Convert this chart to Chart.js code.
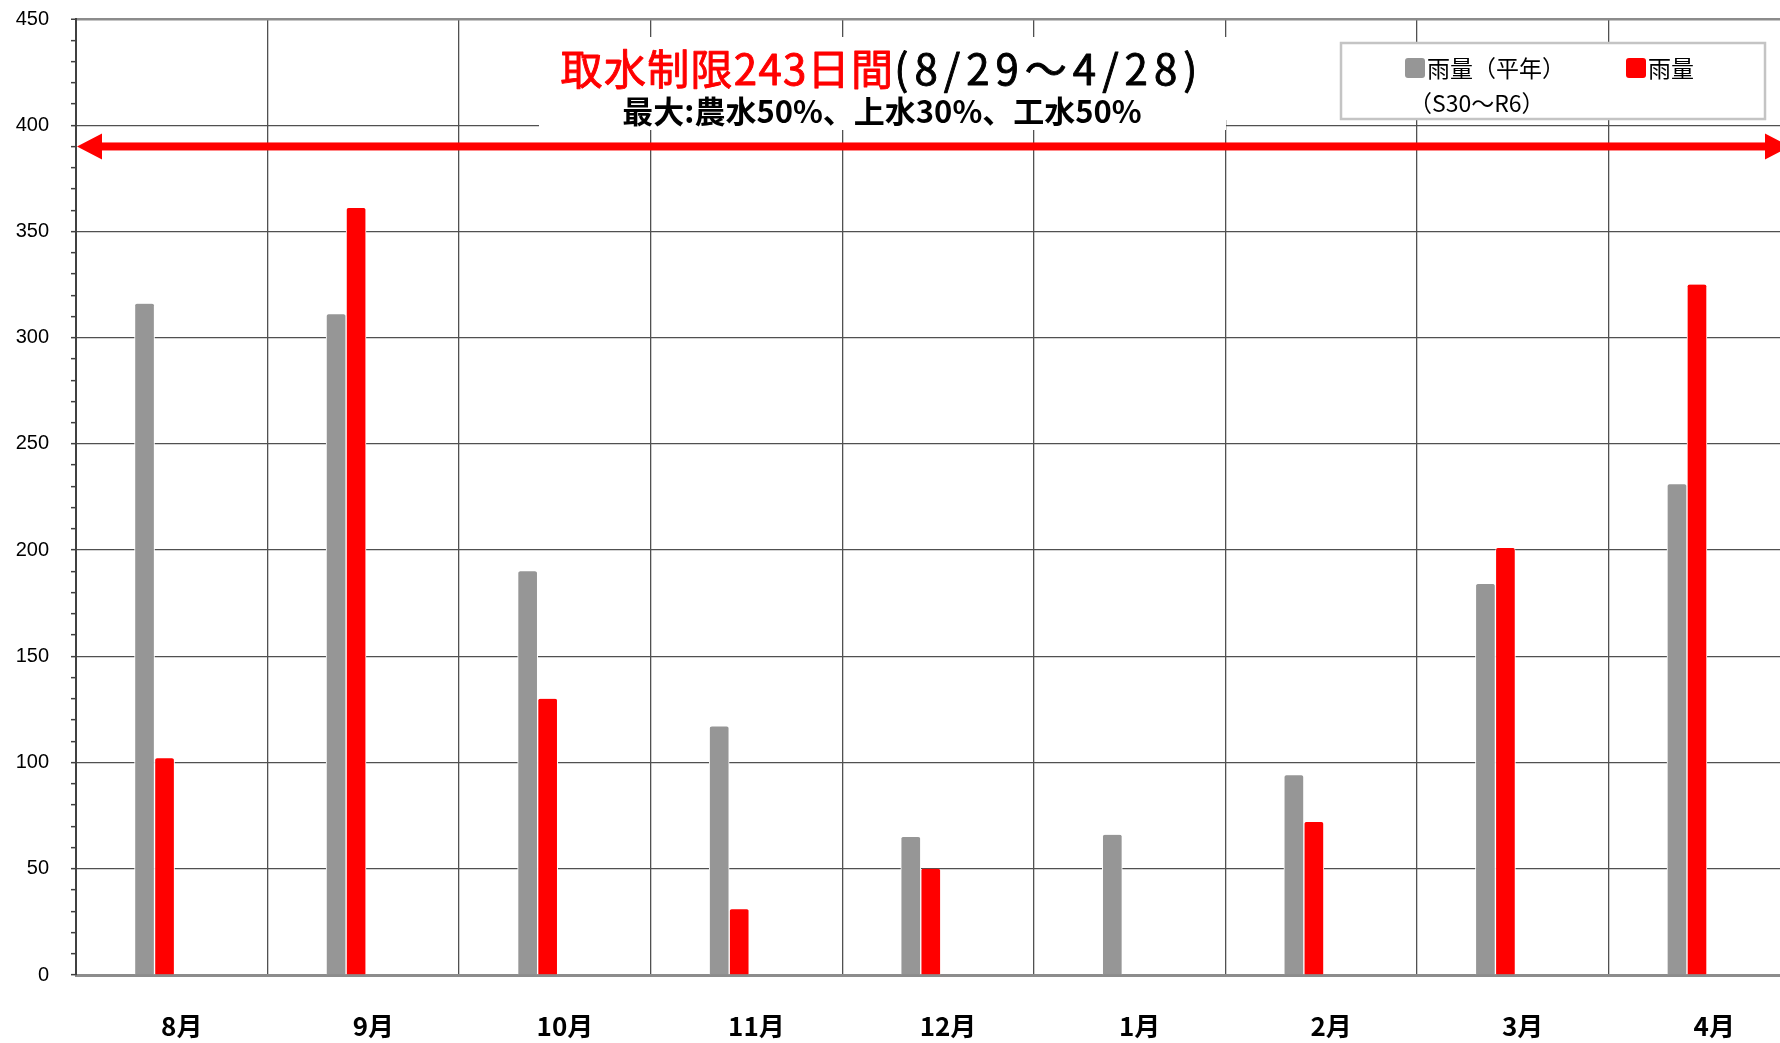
<!DOCTYPE html>
<html lang="ja">
<head>
<meta charset="utf-8">
<title>取水制限期間の月別雨量</title>
<script src="https://cdn.jsdelivr.net/npm/chart.js@4.4.1/dist/chart.umd.min.js"></script>
<style>
  html, body { margin: 0; padding: 0; background: #fff; overflow: hidden; }
  canvas { display: block; }
</style>
</head>
<body>
<canvas id="rain" width="1800" height="1043"></canvas>
<script>
// Monthly rainfall during the water-intake restriction period
const MONTHS = ['8月', '9月', '10月', '11月', '12月', '1月', '2月', '3月', '4月'];
const RAIN_NORMAL = [316, 311, 190, 117, 65, 66, 94, 184, 231];   // 平年 (S30～R6)
const RAIN_ACTUAL = [102, 361, 130, 31, 50, null, 72, 201, 325];
const SERIES_LABELS = ['雨量（平年）', '雨量'];
const SERIES_NOTES = ['（S30～R6）', ''];
const Y_MAX = 450;
const Y_MINOR_STEP = 10;
const Y_LABEL_STEP = 50;
const TITLE_MAIN = '取水制限243日間';
const TITLE_PERIOD = '(8/29～4/28)';
const TITLE_SUB = '最大:農水50%、上水30%、工水50%';

const JP = '"Noto Sans CJK JP", "Noto Sans", sans-serif';
const GRID = '#505050';
const CLEAR = 'rgba(0,0,0,0)';

const toPoints = arr => arr.map((v, i) => ({ x: i, y: v }));

function roundedBox(ctx, x, y, w, h, r) {
  ctx.beginPath();
  if (ctx.roundRect) ctx.roundRect(x, y, w, h, r);
  else ctx.rect(x, y, w, h);
  ctx.fill();
}

// Double-headed arrow spanning the whole restriction period
const periodArrow = {
  id: 'periodArrow',
  afterDatasetsDraw(chart, args, o) {
    const { ctx, chartArea, scales } = chart;
    const y = scales.y.getPixelForValue(o.level);
    const x1 = chartArea.left + 1;
    const x2 = chartArea.right - 10;
    const head = 25, half = 13, thick = 8;
    ctx.save();
    ctx.fillStyle = o.color;
    ctx.fillRect(x1 + head - 1, y - thick / 2, x2 - x1 - 2 * head + 2, thick);
    ctx.beginPath();
    ctx.moveTo(x1, y); ctx.lineTo(x1 + head, y - half); ctx.lineTo(x1 + head, y + half); ctx.closePath();
    ctx.moveTo(x2, y); ctx.lineTo(x2 - head, y - half); ctx.lineTo(x2 - head, y + half); ctx.closePath();
    ctx.fill();
    ctx.restore();
  }
};

// Headline text on white panels inside the plot
const headline = {
  id: 'headline',
  afterDraw(chart, args, o) {
    const ctx = chart.ctx;
    ctx.save();
    ctx.fillStyle = '#fff';
    ctx.fillRect(548, 37, 692, 83);
    ctx.fillRect(539, 95, 687, 35);
    ctx.textBaseline = 'middle';
    ctx.textAlign = 'left';
    ctx.lineJoin = 'round';

    ctx.font = `42px ${JP}`;
    ctx.letterSpacing = '1.3px';
    const wMain = ctx.measureText(TITLE_MAIN).width;
    ctx.letterSpacing = '6px';
    const wPeriod = ctx.measureText(TITLE_PERIOD).width;
    const x = o.cx - (wMain + wPeriod) / 2;
    ctx.lineWidth = 0.9;

    ctx.letterSpacing = '1.3px';
    ctx.fillStyle = ctx.strokeStyle = '#ff0000';
    ctx.fillText(TITLE_MAIN, x, o.y1);
    ctx.strokeText(TITLE_MAIN, x, o.y1);

    ctx.letterSpacing = '6px';
    ctx.fillStyle = ctx.strokeStyle = '#000';
    ctx.fillText(TITLE_PERIOD, x + wMain, o.y1);
    ctx.strokeText(TITLE_PERIOD, x + wMain, o.y1);

    ctx.letterSpacing = '0px';
    ctx.font = `bold 31px ${JP}`;
    ctx.textAlign = 'center';
    ctx.fillText(TITLE_SUB, o.cx, o.y2);
    ctx.restore();
  }
};

// Framed legend in the upper right corner
const boxLegend = {
  id: 'boxLegend',
  afterDraw(chart, args, o) {
    const ctx = chart.ctx;
    ctx.save();
    ctx.fillStyle = '#fff';
    ctx.fillRect(o.x, o.y, o.w, o.h);
    ctx.strokeStyle = '#c4c4c4';
    ctx.lineWidth = 2.5;
    ctx.strokeRect(o.x, o.y, o.w, o.h);
    ctx.font = `23px ${JP}`;
    ctx.textBaseline = 'middle';
    ctx.textAlign = 'left';
    chart.data.datasets.forEach((ds, i) => {
      const mx = o.itemX[i];
      const my = o.y + 15;
      ctx.fillStyle = ds.backgroundColor;
      roundedBox(ctx, mx, my, 20, 20, 3);
      ctx.fillStyle = '#000';
      ctx.fillText(ds.label, mx + 22, my + 10);
      if (SERIES_NOTES[i]) ctx.fillText(SERIES_NOTES[i], mx + 4, my + 45);
    });
    ctx.restore();
  }
};

function draw() {
  new Chart(document.getElementById('rain'), {
    type: 'bar',
    data: {
      labels: MONTHS,
      datasets: [
        { label: SERIES_LABELS[0], data: toPoints(RAIN_NORMAL), backgroundColor: '#969696', xAxisID: 'xb' },
        { label: SERIES_LABELS[1], data: toPoints(RAIN_ACTUAL), backgroundColor: '#ff0000', xAxisID: 'xb' }
      ]
    },
    options: {
      responsive: false,
      animation: false,
      devicePixelRatio: 1,
      layout: { padding: { top: 19, left: 0, right: 0, bottom: 0 } },
      datasets: {
        bar: {
          barThickness: 20,
          borderWidth: { left: 1, right: 1, top: 0, bottom: 0 },
          borderColor: '#fff',
          borderRadius: 3,
          skipNull: true
        }
      },
      plugins: {
        legend: { display: false },
        tooltip: { enabled: false },
        periodArrow: { level: 390, color: '#ff0000' },
        headline: { cx: 882, y1: 69, y2: 111 },
        boxLegend: { x: 1341, y: 43, w: 424, h: 76, itemX: [1405, 1626] }
      },
      scales: {
        x: {
          type: 'category',
          labels: MONTHS,
          offset: true,
          grid: { offset: true, color: GRID, lineWidth: 1.3, drawTicks: false },
          border: { display: true, color: '#8c8c8c', width: 3 },
          ticks: {
            font: { family: JP, size: 26, weight: 'bold' }, color: '#000',
            padding: 36, labelOffset: 10, maxRotation: 0, autoSkip: false
          },
          afterFit: s => { s.height = 68; s.paddingLeft = 0; s.paddingRight = 0; }
        },
        xb: {
          type: 'linear',
          axis: 'x',
          display: false,
          offset: false,
          grid: { offset: false },
          min: -0.41,
          max: 8.59,
          afterBuildTicks: s => { s.ticks = MONTHS.map((_, i) => ({ value: i })); }
        },
        y: {
          min: 0,
          max: Y_MAX,
          ticks: {
            stepSize: Y_MINOR_STEP,
            autoSkip: false,
            callback: v => (v % Y_LABEL_STEP === 0 ? v : ''),
            font: { family: '"Liberation Sans", Arial, sans-serif', size: 20 },
            color: '#000',
            padding: 22
          },
          grid: {
            color: c => {
              const v = c.tick ? c.tick.value : NaN;
              if (v === Y_MAX) return '#8c8c8c';
              if (v === 0) return CLEAR;
              return v % Y_LABEL_STEP === 0 ? GRID : CLEAR;
            },
            lineWidth: c => (c.tick && c.tick.value === Y_MAX ? 2.5 : 1.3),
            tickLength: 5,
            tickColor: '#404040',
            tickWidth: 1.5
          },
          border: { color: '#404040', width: 2 },
          afterFit: s => { s.width = 76; s.paddingTop = 0; s.paddingBottom = 0; }
        }
      }
    },
    plugins: [periodArrow, headline, boxLegend]
  });
}

const fontsReady = document.fonts
  ? Promise.all([
      document.fonts.load(`26px ${JP}`),
      document.fonts.load(`bold 32px ${JP}`),
      document.fonts.load('20px "Liberation Sans"')
    ]).catch(() => {})
  : Promise.resolve();
fontsReady.then(draw);
</script>
</body>
</html>
